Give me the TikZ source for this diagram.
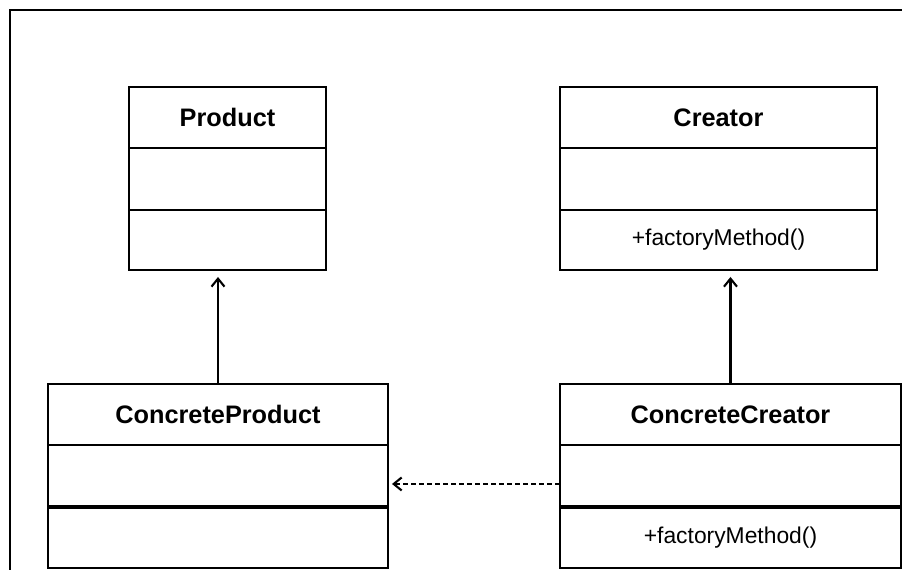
\documentclass[tikz,border=0pt]{standalone}
\usepackage{fontspec}
\setmainfont{Liberation Sans}
\usetikzlibrary{positioning,arrows.meta}

\tikzset{
  part/.style={draw, line width=0.6pt, inner sep=0pt, outer sep=0pt},
  title/.style={part, minimum height=0.61cm, font=\fontsize{7.2}{9}\selectfont\bfseries},
  attr/.style={part, minimum height=0.62cm},
  meth/.style={part, minimum height=0.61cm, font=\fontsize{6.5}{8}\selectfont},
  inherit/.style={line width=0.6pt, -{Straight Barb[length=0.08cm, width=0.13cm]}, shorten >=0.07cm},
  depend/.style={line width=0.6pt, dashed, dash pattern=on 0.05cm off 0.03cm, -{Straight Barb[length=0.08cm, width=0.13cm]}, shorten >=0.04cm}
}

\begin{document}
\begin{tikzpicture}
    \useasboundingbox (0,0) rectangle (9.02,-5.70);

    % Frame
    \draw[line width=0.6pt] (0.10,-5.70) -- (0.10,-0.10) -- (9.02,-0.10);

    % Product
    \node[title, minimum width=1.97cm] (prodtitle) at (2.275,-1.175) {Product};
    \node[attr, minimum width=1.97cm, below=0pt of prodtitle] (prodattr) {};
    \node[meth, minimum width=1.97cm, minimum height=0.60cm, below=0pt of prodattr] (prodmeth) {};

    % Creator
    \node[title, minimum width=3.17cm] (creatitle) at (7.185,-1.175) {Creator};
    \node[attr, minimum width=3.17cm, below=0pt of creatitle] (creaattr) {};
    \node[meth, minimum width=3.17cm, minimum height=0.60cm, below=0pt of creaattr] (creameth) {+factoryMethod()};

    % ConcreteProduct
    \node[title, minimum width=3.40cm] (cprodtitle) at (2.18,-4.145) {ConcreteProduct};
    \node[attr, minimum width=3.40cm, below=0pt of cprodtitle] (cprodattr) {};
    \node[meth, minimum width=3.40cm, below=0pt of cprodattr] (cprodmeth) {};
    \draw[line width=1.3pt] (cprodattr.south west) -- (cprodattr.south east);

    % ConcreteCreator
    \node[title, minimum width=3.41cm] (ccreatitle) at (7.305,-4.145) {ConcreteCreator};
    \node[attr, minimum width=3.41cm, below=0pt of ccreatitle] (ccreaattr) {};
    \node[meth, minimum width=3.41cm, below=0pt of ccreaattr] (ccreameth) {+factoryMethod()};
    \draw[line width=1.3pt] (ccreaattr.south west) -- (ccreaattr.south east);

    % Inheritance
    \draw[inherit] (cprodtitle.north) -- (cprodtitle.north |- prodmeth.south);
    \draw[inherit] (ccreatitle.north) -- (ccreatitle.north |- creameth.south);

    % Dependency
    \coordinate (dep) at ([yshift=-0.08cm]ccreaattr.west);
    \draw[depend] (dep) -- (dep -| cprodattr.east);
\end{tikzpicture}
\end{document}
